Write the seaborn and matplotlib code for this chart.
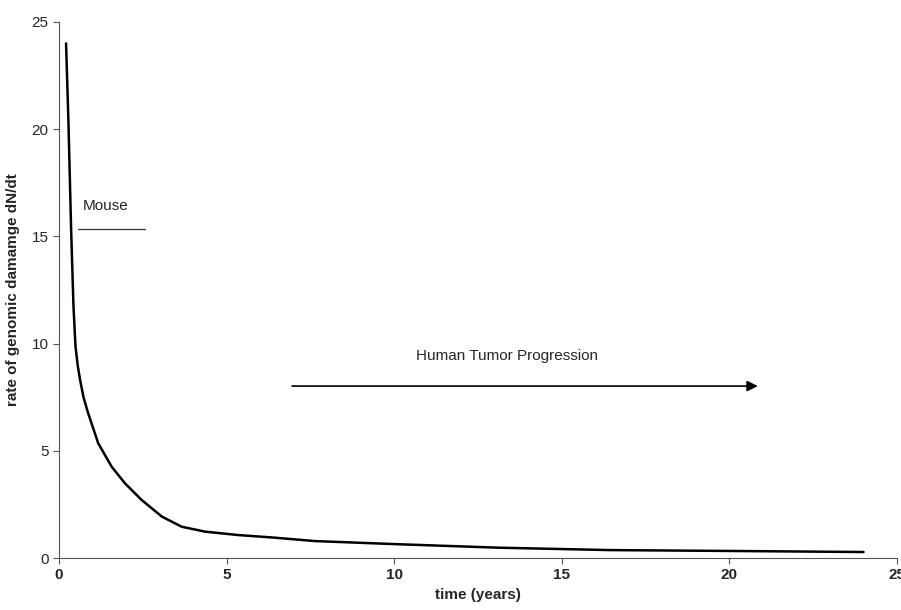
import numpy as np
import matplotlib.pyplot as plt
import seaborn as sns

# values
time_years = [0.21, 0.28, 0.36, 0.43, 0.49, 0.56, 0.63, 0.73, 0.87, 1.17, 1.57, 1.97,
              2.47, 3.07, 3.66, 4.36, 5.35, 6.35, 7.64, 10.18, 13.16, 16.45, 20, 24]
damage_rate = [24.0, 20.4, 15.4, 11.8, 9.9, 8.95, 8.3, 7.5, 6.75, 5.35, 4.26, 3.48,
               2.7, 1.93, 1.46, 1.23, 1.07, 0.96, 0.79, 0.64, 0.48, 0.37, 0.33, 0.28]

sns.set_style("ticks")
plt.rcParams['font.family'] = ['Liberation Sans', 'DejaVu Sans']

fig = plt.figure(figsize=(9.01, 6.10), dpi=100)
ax = fig.add_axes([0.0655, 0.0852, 0.9301, 0.8788])

sns.lineplot(x=time_years, y=damage_rate, ax=ax, color='black', linewidth=1.8)

ax.set_xlim(0, 25)
ax.set_ylim(0, 25)
ax.set_xticks(range(0, 26, 5))
ax.set_yticks(range(0, 26, 5))
ax.tick_params(axis='both', labelsize=11, length=4, width=0.8, color='#555555')
for lbl in ax.get_xticklabels():
    lbl.set_fontweight('bold')
sns.despine(ax=ax)
for s in ['left', 'bottom']:
    ax.spines[s].set_color('#555555')
    ax.spines[s].set_linewidth(0.8)

ax.set_xlabel("time (years)", fontsize=11, fontweight='bold', labelpad=4)
ax.set_ylabel("rate of genomic damamge dN/dt", fontsize=11, fontweight='bold', labelpad=8)

# Mouse annotation
ax.plot([0.57, 2.57], [15.35, 15.35], color='#333333', linewidth=0.9)
ax.text(0.72, 16.4, "Mouse", fontsize=11, ha='left', va='center')

# Human tumor progression arrow
ax.annotate("", xy=(20.93, 8.02), xytext=(6.87, 8.02),
            arrowprops=dict(arrowstyle='-|>', color='black', lw=1.2, mutation_scale=16))
ax.text(13.35, 9.4, "Human Tumor Progression", fontsize=11, ha='center', va='center')

fig.savefig("out.png", dpi=100)
